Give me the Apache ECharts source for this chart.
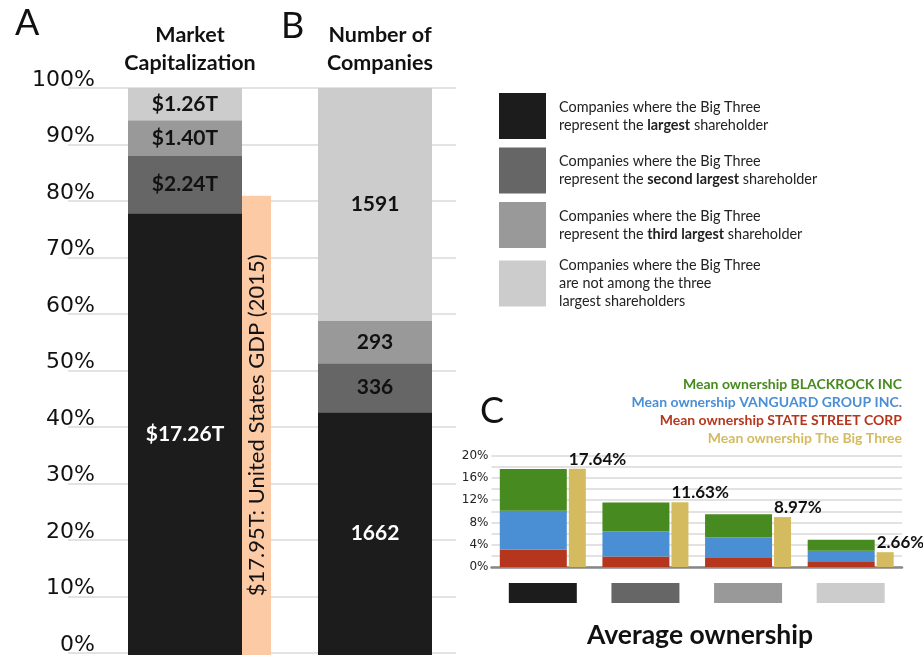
<!DOCTYPE html>
<html>
<head>
<meta charset="utf-8">
<script src="https://cdn.jsdelivr.net/npm/echarts@6/dist/echarts.min.js"></script>
<style>
  html, body { margin: 0; padding: 0; background: #fff; }
  #chart { width: 923px; height: 656px; }
</style>
</head>
<body>
<div id="chart"></div>
<script>
// rank of the Big Three among shareholders
const rankNames = ['largest', 'second largest', 'third largest', 'not top three'];
const GRAYS = ['#1c1c1c', '#666666', '#999999', '#cccccc'];

// panel A: market capitalization, trillions USD
const mcapT = [17.26, 2.24, 1.40, 1.26];
const gdpT = 17.95;
// panel B: number of companies
const companyCounts = [1662, 336, 293, 1591];

// panel C: mean ownership (%)
const blackrock = [7.5, 5.2, 4.2, 2.0];
const vanguard = [7.0, 4.5, 3.7, 2.0];
const stateStreet = [3.1, 1.9, 1.6, 0.9];
const bigThree = [17.64, 11.63, 8.97, 2.66];

const FONT = 'Lato';
const mcapTotal = mcapT.reduce((a, b) => a + b, 0);
const countTotal = companyCounts.reduce((a, b) => a + b, 0);
const pct = (v, t) => v / t * 100;

const legendLines = {
  'largest': 'Companies where the Big Three\nrepresent the {b|largest} shareholder',
  'second largest': 'Companies where the Big Three\nrepresent the {b|second largest} shareholder',
  'third largest': 'Companies where the Big Three\nrepresent the {b|third largest} shareholder',
  'not top three': 'Companies where the Big Three\nare not among the three\nlargest shareholders',
};

const chart = echarts.init(document.getElementById('chart'));

const stackAB = rankNames.map((name, i) => ({
  name,
  type: 'bar',
  xAxisIndex: 1,
  yAxisIndex: 1,
  stack: 'ab',
  barWidth: 114,
  barGap: '0%',
  itemStyle: { color: GRAYS[i] },
  label: {
    show: true,
    position: 'inside',
    fontFamily: FONT,
    fontSize: 21,
    fontWeight: 'bold',
    color: i === 0 ? '#fff' : '#111',
    formatter: (p) => p.dataIndex === 0 ? '$' + mcapT[i].toFixed(2) + 'T' : String(companyCounts[i]),
  },
  data: [pct(mcapT[i], mcapTotal), pct(companyCounts[i], countTotal)],
}));

const ownSeries = [
  { name: 'Mean ownership STATE STREET CORP', color: '#b5361c', data: stateStreet },
  { name: 'Mean ownership VANGUARD GROUP INC.', color: '#4a8fd4', data: vanguard },
  { name: 'Mean ownership BLACKROCK INC', color: '#478a1f', data: blackrock },
].map((s) => ({
  name: s.name,
  type: 'bar',
  xAxisIndex: 2,
  yAxisIndex: 2,
  stack: 'own',
  barWidth: 67,
  barGap: '3%',
  itemStyle: { color: s.color },
  data: s.data,
}));

const legendC = [
  ['Mean ownership BLACKROCK INC', '#478a1f'],
  ['Mean ownership VANGUARD GROUP INC.', '#4a8fd4'],
  ['Mean ownership STATE STREET CORP', '#b5361c'],
  ['Mean ownership The Big Three', '#d4bb5f'],
];

chart.setOption({
  animation: false,
  title: [
    { text: 'A', left: 10, top: 0, textStyle: { fontFamily: FONT, fontSize: 36, fontWeight: 'normal', color: '#111' } },
    { text: 'B', left: 276, top: 3, textStyle: { fontFamily: FONT, fontSize: 36, fontWeight: 'normal', color: '#111' } },
    { text: 'C', left: 475, top: 388, textStyle: { fontFamily: FONT, fontSize: 36, fontWeight: 'normal', color: '#111' } },
    { text: 'Market\nCapitalization', left: 185, top: 16, textAlign: 'center',
      textStyle: { fontFamily: FONT, fontSize: 21.5, fontWeight: 'bold', lineHeight: 28, color: '#111' } },
    { text: 'Number of\nCompanies', left: 375, top: 16, textAlign: 'center',
      textStyle: { fontFamily: FONT, fontSize: 21.5, fontWeight: 'bold', lineHeight: 28, color: '#111' } },
    { text: 'Average ownership', left: 695, top: 617, textAlign: 'center',
      textStyle: { fontFamily: FONT, fontSize: 26.5, fontWeight: 'bold', color: '#111' } },
  ],
  legend: [
    {
      data: rankNames,
      orient: 'vertical',
      left: 499,
      top: 93,
      padding: 0,
      itemWidth: 47,
      itemHeight: 46,
      itemGap: 8.5,
      icon: 'rect',
      selectedMode: false,
      formatter: (name) => legendLines[name],
      textStyle: {
        fontFamily: FONT, fontSize: 14.4, color: '#222', lineHeight: 18, padding: [0, 0, 0, 8],
        rich: { b: { fontFamily: FONT, fontSize: 14.4, fontWeight: 'bold', color: '#222', lineHeight: 18 } },
      },
    },
    {
      data: legendC.map(([name, color]) => ({ name, textStyle: { color } })),
      orient: 'vertical',
      right: 16,
      top: 377,
      padding: 0,
      align: 'right',
      icon: 'none',
      itemWidth: 0,
      itemHeight: 14,
      itemGap: 4.3,
      selectedMode: false,
      textStyle: { fontFamily: FONT, fontSize: 14, fontWeight: 'bold' },
    },
  ],
  grid: [
    { left: 68, right: 467, top: 88, bottom: 1 },
    { left: 104.5, right: 438.5, top: 88, bottom: 1 },
    { left: 491.5, right: 21, top: 455.7, bottom: 89 },
  ],
  xAxis: [
    { gridIndex: 0, type: 'value', min: 0, max: 1, show: false },
    { gridIndex: 1, type: 'category', data: ['Market Capitalization', 'Number of Companies'], show: false },
    {
      gridIndex: 2,
      type: 'category',
      data: rankNames,
      axisTick: { show: false },
      axisLine: { show: true, lineStyle: { color: '#888', width: 2.5 } },
      axisLabel: {
        margin: 16,
        formatter: (v, i) => '{b' + i + '| }',
        rich: Object.fromEntries(GRAYS.map((c, i) => ['b' + i, { width: 68, height: 20, backgroundColor: c }])),
      },
    },
  ],
  yAxis: [
    {
      gridIndex: 0,
      type: 'value',
      min: 0,
      max: 100,
      interval: 10,
      axisLine: { show: false },
      axisTick: { show: false },
      splitLine: { lineStyle: { color: '#dadada', width: 1.5 } },
      axisLabel: {
        inside: true,
        margin: 27,
        align: 'right',
        verticalAlign: 'bottom',
        fontFamily: 'DejaVu Sans',
        fontSize: 22,
        color: '#111',
        padding: [0, 0, -3, 0],
        formatter: '{value}%',
      },
    },
    { gridIndex: 1, type: 'value', min: 0, max: 100, show: false },
    {
      gridIndex: 2,
      type: 'value',
      min: 0,
      max: 20,
      interval: 2,
      axisLine: { show: false },
      axisTick: { show: false },
      splitLine: { lineStyle: { color: '#d9d9d9', width: 1.5 } },
      axisLabel: {
        margin: 3,
        fontFamily: 'DejaVu Sans',
        fontSize: 12,
        color: '#222',
        formatter: (v) => (v % 4 === 0 ? v + '%' : ''),
      },
    },
  ],
  series: [
    ...stackAB,
    {
      name: 'United States GDP (2015)',
      type: 'bar',
      xAxisIndex: 1,
      yAxisIndex: 1,
      barWidth: 29,
      barGap: '0%',
      itemStyle: { color: '#fdcaa6' },
      label: {
        show: true,
        position: 'inside',
        rotate: 90,
        fontFamily: FONT,
        fontSize: 22,
        color: '#111',
        formatter: () => '$' + gdpT.toFixed(2) + 'T: United States GDP (2015)',
      },
      data: [pct(gdpT, mcapTotal), '-'],
    },
    ...ownSeries,
    {
      name: 'Mean ownership The Big Three',
      type: 'bar',
      xAxisIndex: 2,
      yAxisIndex: 2,
      barWidth: 17,
      barGap: '3%',
      itemStyle: { color: '#d4bb5f' },
      label: {
        show: true,
        position: [0, -1],
        align: 'left',
        verticalAlign: 'bottom',
        fontFamily: FONT,
        fontSize: 17,
        fontWeight: 'bold',
        color: '#111',
        formatter: (p) => p.value.toFixed(2) + '%',
      },
      data: bigThree,
    },
  ],
});
</script>
</body>
</html>
